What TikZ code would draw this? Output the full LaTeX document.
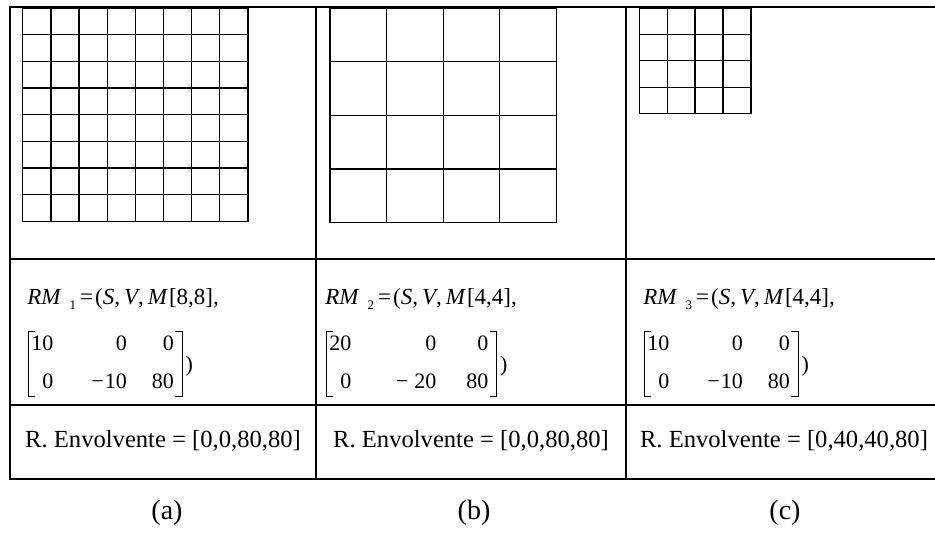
\documentclass[tikz,border=0pt]{standalone}
\usepackage{fontspec}
\setmainfont{Liberation Serif}
\usetikzlibrary{positioning}
\newcommand\rmmat[3]{%
  \begin{tabular}{@{\hspace{1.5pt}}r@{\hspace{#1}}r@{\hspace{#2}}r@{\hspace{4pt}}}#3\end{tabular}}
\newcommand\rmsub[1]{\kern4pt\raisebox{-2.5pt}{\fontsize{6.5}{7}\selectfont #1}\kern2pt}

\begin{document}
\begin{tikzpicture}[x=0.5pt,y=-0.5pt,
  rule/.style={line width=1pt,line cap=rect},
  gridline/.style={line width=0.65pt},
  brk/.style={line width=0.5pt},
  rmline/.style={anchor=west,inner sep=0pt,font=\fontsize{11.5}{13}\selectfont},
  mat/.style={anchor=west,inner sep=0pt,font=\fontsize{11}{13}\selectfont},
  env/.style={inner sep=0pt,font=\fontsize{12.3}{14}\selectfont},
  tag/.style={inner sep=0pt,font=\fontsize{14}{16}\selectfont}
]
  \useasboundingbox (0,0) rectangle (935,554);

  % regular meshes
  \foreach \gx/\n/\cx/\cy in {22.7/8/28.16/26.7, 330/4/56.6/53.7, 639.3/4/27.9/26.45} {
    \foreach \k in {0,...,\n} {
      \draw[gridline] (\gx+\cx*\k,7.9) -- (\gx+\cx*\k,7.9+\cy*\n);
      \draw[gridline] (\gx,7.9+\cy*\k) -- (\gx+\cx*\n,7.9+\cy*\k);
    }
  }

  % table
  \draw[rule] (9.5,479) -- (9.5,6.8) -- (935,6.8);
  \foreach \y in {259,405,479} \draw[rule] (9.5,\y) -- (935,\y);
  \foreach \x in {316,626} \draw[rule] (\x,6.8) -- (\x,479);

  \node[rmline] (rm1) at (27,299)
    {\textit{RM}\rmsub{1}=\kern1pt(\textit{S},\kern2pt\textit{V},\kern2pt\textit{M}\kern0.5pt[8,8],};
  \node[rmline] (rm2) at (325,299)
    {\textit{RM}\rmsub{2}=\kern1pt(\textit{S},\kern2pt\textit{V},\kern2pt\textit{M}\kern0.5pt[4,4],};
  \node[rmline] (rm3) at (643,299)
    {\textit{RM}\rmsub{3}=\kern1pt(\textit{S},\kern2pt\textit{V},\kern2pt\textit{M}\kern0.5pt[4,4],};

  \node[mat] (m1) at (28,364) {\rmmat{19pt}{12.5pt}{10&0&0\\[6pt]0&−\kern0.5pt10&80}};
  \node[mat] (m2) at (326,364) {\rmmat{22.3pt}{15pt}{20&0&0\\[6pt]0&−\kern3pt20&80}};
  \node[mat] (m3) at (644,364) {\rmmat{19pt}{12.5pt}{10&0&0\\[6pt]0&−\kern0.5pt10&80}};
  \foreach \m in {m1,m2,m3} {
    \draw[brk] ([xshift=3.5pt]\m.north west) -| (\m.south west) -- ++(7,0);
    \draw[brk] ([xshift=-3.5pt]\m.north east) -| (\m.south east) -- ++(-7,0);
    \node[mat,right=1.5pt of \m,yshift=-1pt] (\m p) {)};
  }

  \node[env] (e1) at (163,441) {R. Envolvente = [0,0,80,80]};
  \node[env] (e2) at (471,441) {R. Envolvente = [0,0,80,80]};
  \node[env] (e3) at (784,441) {R. Envolvente = [0,40,40,80]};

  \node[tag] (ta) at (167,513) {(a)};
  \node[tag] (tb) at (474,513) {(b)};
  \node[tag] (tc) at (785,513) {(c)};
\end{tikzpicture}
\end{document}
